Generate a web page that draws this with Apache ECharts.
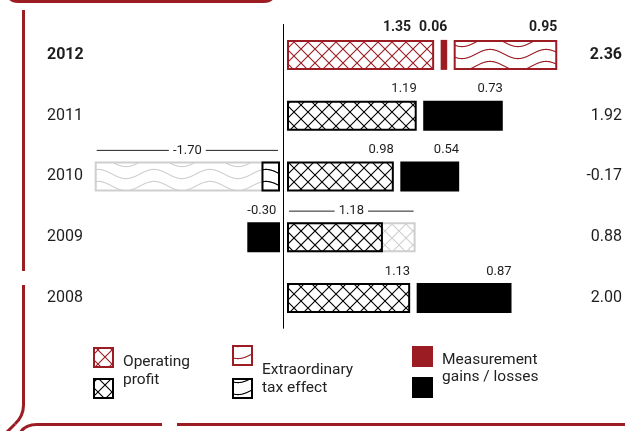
<!DOCTYPE html>
<html>
<head>
<meta charset="utf-8">
<script src="https://cdn.jsdelivr.net/npm/echarts@6/dist/echarts.min.js"></script>
<style>
  html, body { margin: 0; padding: 0; background: #fff; }
  #chart { width: 625px; height: 431px; }
</style>
</head>
<body>
<div id="chart"></div>
<script>
// Earnings per share bridge, 2008–2012
const years = ['2012', '2011', '2010', '2009', '2008'];
const operatingProfit = [1.35, 1.19, 0.98, 1.18, 1.13];
const measurementGains = [0.06, 0.73, 0.54, -0.30, 0.87];
const extraordinaryTax = [0.95, 0, -1.70, 0, 0];
const totals = [2.36, 1.92, -0.17, 0.88, 2.00];
const highlightYear = '2012';

const RED = '#9b1c23';
const INK = '#000000';
const GREY = '#cfcfcf';
const TEXT = '#1e1e1e';
const FONT = 'Roboto, "Noto Sans", sans-serif';

const BAR_H = 30;     // bar thickness in px
const GAP = 6.5;      // space between stacked pieces
const AXIS_PAD = 3.5; // space between zero line and the first piece
const LABEL_GAP = 8;  // minimum space between neighbouring value labels

// ---- fill patterns -------------------------------------------------------
const patternCache = {};
function crossFill(color) {
  const key = 'x' + color;
  if (!patternCache[key]) {
    const s = 14, c = document.createElement('canvas');
    c.width = s; c.height = s;
    const g = c.getContext('2d');
    g.strokeStyle = color; g.lineWidth = 1.1;
    g.beginPath();
    g.moveTo(-2, -2); g.lineTo(s + 2, s + 2);
    g.moveTo(s + 2, -2); g.lineTo(-2, s + 2);
    g.stroke();
    patternCache[key] = { type: 'pattern', image: c, repeat: 'repeat' };
  }
  return patternCache[key];
}
function waveFill(color) {
  const key = 'w' + color;
  if (!patternCache[key]) {
    const w = 56, h = 12, c = document.createElement('canvas');
    c.width = w; c.height = h;
    const g = c.getContext('2d');
    g.strokeStyle = color; g.lineWidth = 1.1;
    [-h, 0, h].forEach(off => {
      g.beginPath();
      for (let x = -1; x <= w + 1; x += 0.5) {
        const y = h / 2 + off + 4.6 * Math.sin(2 * Math.PI * x / w);
        if (x === -1) g.moveTo(x, y); else g.lineTo(x, y);
      }
      g.stroke();
    });
    patternCache[key] = { type: 'pattern', image: c, repeat: 'repeat' };
  }
  return patternCache[key];
}

// one bar piece of a given kind
function piece(x, y, w, h, kind, color) {
  if (kind === 'meas') {
    return { type: 'rect', shape: { x: x, y: y, width: w, height: h }, style: { fill: color } };
  }
  const fill = kind === 'op' ? crossFill(color) : waveFill(color);
  return {
    type: 'rect',
    shape: { x: x + 1, y: y + 1, width: Math.max(w - 2, 0.5), height: h - 2 },
    style: { fill: fill, stroke: color, lineWidth: 2 }
  };
}

const measureCtx = document.createElement('canvas').getContext('2d');
function textWidth(t, font) { measureCtx.font = font; return measureCtx.measureText(t).width; }

function renderRow(params, api) {
  const i = api.value(1);
  const zero = api.coord([0, i]);
  const x0 = zero[0], cy = zero[1];
  const unit = api.coord([1, i])[0] - x0;
  const hi = years[i] === highlightYear;
  const ink = hi ? RED : INK;
  const top = cy - BAR_H / 2;
  const labelFont = hi ? 'bold 14px ' + FONT : '13px ' + FONT;
  const children = [];

  const parts = [
    { kind: 'op', v: operatingProfit[i] },
    { kind: 'meas', v: measurementGains[i] },
    { kind: 'ext', v: extraordinaryTax[i] }
  ].filter(p => p.v);
  const total = totals[i];
  const stacks = [parts.filter(p => p.v > 0), parts.filter(p => p.v < 0)];

  stacks.forEach((stack, s) => {
    if (!stack.length) return;
    const dir = s === 0 ? 1 : -1;
    const cancelled = stacks[1 - s].length > 0 && Math.sign(total) === dir;
    let edge = x0 + dir * AXIS_PAD;
    const spanStart = edge;
    let keepLeft = Math.abs(total);
    let stackSum = 0;
    const labels = [];
    stack.forEach((p, k) => {
      if (k) edge += dir * GAP;
      const w = Math.abs(p.v) * unit;
      const x1 = edge, x2 = edge + dir * w;
      const left = Math.min(x1, x2);
      stackSum += p.v;
      if (cancelled) {
        // the part offset by the other side is greyed, the net remainder keeps its ink
        const keepW = Math.min(Math.abs(p.v), keepLeft) * unit;
        keepLeft -= Math.min(Math.abs(p.v), keepLeft);
        children.push(piece(left, top, w, BAR_H, p.kind, GREY));
        if (keepW > 0) {
          children.push(piece(dir > 0 ? x1 : x1 - keepW, top, keepW, BAR_H, p.kind, ink));
        }
      } else {
        children.push(piece(left, top, w, BAR_H, p.kind, ink));
        const txt = p.v.toFixed(2);
        labels.push({ txt: txt, anchor: x2, w: textWidth(txt, labelFont) });
      }
      edge = x2;
    });
    // value labels sit at the outer end of each piece; push inner ones back if they collide
    for (let k = labels.length - 2; k >= 0; k--) {
      const outer = labels[k + 1], inner = labels[k];
      if (dir > 0) {
        const limit = outer.anchor - outer.w - LABEL_GAP;
        if (inner.anchor > limit) inner.anchor = limit;
      } else {
        const limit = outer.anchor + outer.w + LABEL_GAP;
        if (inner.anchor < limit) inner.anchor = limit;
      }
    }
    labels.forEach(l => children.push({
      type: 'text',
      style: {
        text: l.txt, x: l.anchor, y: top - 5,
        align: dir > 0 ? 'right' : 'left', verticalAlign: 'bottom',
        font: labelFont, fill: TEXT
      }
    }));
    if (cancelled) {
      const a = Math.min(spanStart, edge), b = Math.max(spanStart, edge);
      const mid = (a + b) / 2, ly = top - 11;
      const txt = stackSum.toFixed(2);
      const tw = textWidth(txt, labelFont);
      const lineStyle = { stroke: '#222', lineWidth: 1 };
      children.push({ type: 'line', shape: { x1: a + 2, y1: ly, x2: mid - tw / 2 - 4, y2: ly }, style: lineStyle });
      children.push({ type: 'line', shape: { x1: mid + tw / 2 + 4, y1: ly, x2: b - 2, y2: ly }, style: lineStyle });
      children.push({
        type: 'text',
        style: { text: txt, x: mid, y: ly, align: 'center', verticalAlign: 'middle', font: labelFont, fill: TEXT }
      });
    }
  });
  return { type: 'group', children: children };
}

// ---- frame and legend ------------------------------------------------------
const frameStyle = { stroke: RED, lineWidth: 3, fill: null };
const frame = [
  { type: 'bezierCurve', shape: { x1: 8, y1: -6, cpx1: 9.5, cpy1: 1.5, x2: 18, y2: 1.5 }, style: frameStyle },
  { type: 'line', shape: { x1: 18, y1: 1.5, x2: 264, y2: 1.5 }, style: frameStyle },
  { type: 'bezierCurve', shape: { x1: 264, y1: 1.5, cpx1: 272.5, cpy1: 1.5, x2: 274, y2: -6 }, style: frameStyle },
  { type: 'line', shape: { x1: 23.5, y1: 10, x2: 23.5, y2: 271 }, style: frameStyle },
  { type: 'line', shape: { x1: 23.5, y1: 285, x2: 23.5, y2: 405 }, style: frameStyle },
  { type: 'bezierCurve', shape: { x1: 23.5, y1: 405, cpx1: 23.5, cpy1: 416, x2: 15, y2: 424 }, style: frameStyle },
  { type: 'line', shape: { x1: 15, y1: 424, x2: 6, y2: 433 }, style: frameStyle },
  { type: 'bezierCurve', shape: { x1: 20, y1: 433, cpx1: 25, cpy1: 424.5, x2: 37, y2: 424.5 }, style: frameStyle },
  { type: 'line', shape: { x1: 37, y1: 424.5, x2: 162, y2: 424.5 }, style: frameStyle },
  { type: 'line', shape: { x1: 177, y1: 424.5, x2: 625, y2: 424.5 }, style: frameStyle }
];

const legendFont = '15.5px ' + FONT;
const legend = [
  piece(93, 347, 21, 21, 'op', RED),
  piece(93, 378, 21, 21, 'op', INK),
  { type: 'text', style: { text: 'Operating\nprofit', x: 123, y: 371, verticalAlign: 'middle', font: legendFont, lineHeight: 18, fill: '#222' } },
  piece(232, 345, 21, 21, 'ext', RED),
  piece(232, 378, 21, 21, 'ext', INK),
  { type: 'text', style: { text: 'Extraordinary\ntax effect', x: 262, y: 379, verticalAlign: 'middle', font: legendFont, lineHeight: 18, fill: '#222' } },
  piece(412, 346, 21, 21, 'meas', RED),
  piece(412, 377, 21, 21, 'meas', INK),
  { type: 'text', style: { text: 'Measurement\ngains / losses', x: 442, y: 369, verticalAlign: 'middle', font: legendFont, lineHeight: 17, fill: '#222' } }
];

const chart = echarts.init(document.getElementById('chart'), null, { renderer: 'canvas' });
const catAxisBase = { type: 'category', data: years, inverse: true, axisTick: { show: false }, splitLine: { show: false } };

chart.setOption({
  animation: false,
  backgroundColor: '#fff',
  grid: { left: 65.5, right: 14.5, top: 24.5, bottom: 102.75, containLabel: false, outerBoundsMode: 'none' },
  xAxis: {
    type: 'value', min: -2, max: 3,
    axisLine: { show: false }, axisTick: { show: false }, axisLabel: { show: false }, splitLine: { show: false }
  },
  yAxis: [
    Object.assign({}, catAxisBase, {
      position: 'left',
      axisLine: { show: true, onZero: true, lineStyle: { color: '#000', width: 1 } },
      axisLabel: { show: false }
    }),
    Object.assign({}, catAxisBase, {
      position: 'left',
      axisLine: { show: false, onZero: false },
      axisLabel: {
        align: 'left', margin: 18.5, color: TEXT, fontSize: 16, fontFamily: FONT,
        formatter: v => v === highlightYear ? '{b|' + v + '}' : v,
        rich: { b: { fontWeight: 'bold', fontSize: 16, fontFamily: FONT, color: TEXT } }
      }
    }),
    Object.assign({}, catAxisBase, {
      position: 'right',
      axisLine: { show: false, onZero: false },
      axisLabel: {
        align: 'right', margin: 11.5, color: TEXT, fontSize: 16, fontFamily: FONT,
        formatter: (v, idx) => {
          const t = totals[idx].toFixed(2);
          return years[idx] === highlightYear ? '{b|' + t + '}' : t;
        },
        rich: { b: { fontWeight: 'bold', fontSize: 16, fontFamily: FONT, color: TEXT } }
      }
    })
  ],
  series: [{
    type: 'custom',
    xAxisIndex: 0,
    yAxisIndex: 0,
    renderItem: renderRow,
    data: years.map((_, i) => [0, i])
  }],
  graphic: frame.concat(legend)
});
</script>
</body>
</html>
